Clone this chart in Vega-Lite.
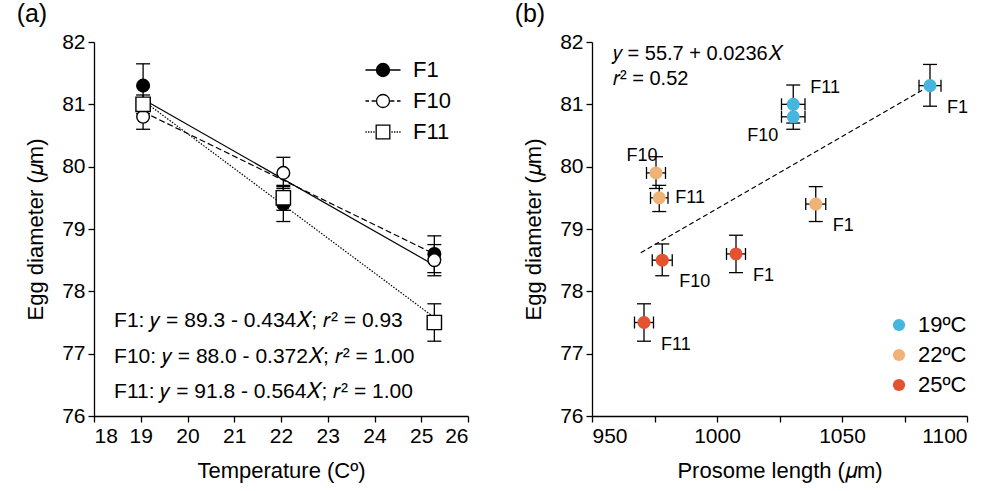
{
  "$schema": "https://vega.github.io/schema/vega-lite/v6.json",
  "padding": {"left": 16, "top": 2, "right": 4, "bottom": 4},
  "spacing": 45,
  "resolve": {
    "scale": {"color": "independent", "shape": "independent", "fill": "independent"},
    "legend": {"color": "independent", "shape": "independent", "fill": "independent"}
  },
  "config": {
    "font": "Liberation Sans",
    "view": {"stroke": null},
    "axis": {"domainColor": "#000", "tickColor": "#000", "labelColor": "#000", "titleColor": "#000", "labelFontSize": 21, "titleFontSize": 22, "titleFontWeight": "normal", "grid": false, "tickSize": 6, "domainWidth": 1.3, "tickWidth": 1.3, "labelPadding": 3},
    "title": {"fontSize": 25, "fontWeight": "normal", "anchor": "start", "frame": "bounds", "color": "#000", "offset": 4, "dx": -8},
    "legend": {"labelFontSize": 22, "labelColor": "#000", "padding": 0, "title": null}
  },
  "datasets": {
    "left_pts": [
      {"gen": "F1", "temp": 19.05, "mean": 81.3, "lo": 80.95, "hi": 81.65},
      {"gen": "F1", "temp": 22.05, "mean": 79.4, "lo": 79.12, "hi": 79.68},
      {"gen": "F1", "temp": 25.28, "mean": 78.6, "lo": 78.3, "hi": 78.89},
      {"gen": "F10", "temp": 19.05, "mean": 80.8, "lo": 80.6, "hi": 81.0},
      {"gen": "F10", "temp": 22.05, "mean": 79.9, "lo": 79.65, "hi": 80.15},
      {"gen": "F10", "temp": 25.28, "mean": 78.5, "lo": 78.25, "hi": 78.75},
      {"gen": "F11", "temp": 19.05, "mean": 81.0, "lo": 80.85, "hi": 81.15},
      {"gen": "F11", "temp": 22.05, "mean": 79.5, "lo": 79.3, "hi": 79.7},
      {"gen": "F11", "temp": 25.28, "mean": 77.5, "lo": 77.2, "hi": 77.8}
    ],
    "left_fit": [
      {"gen": "F1", "temp": 19.05, "fit": 81.08},
      {"gen": "F1", "temp": 25.28, "fit": 78.42},
      {"gen": "F10", "temp": 19.05, "fit": 80.88},
      {"gen": "F10", "temp": 25.28, "fit": 78.6},
      {"gen": "F11", "temp": 19.05, "fit": 81.06},
      {"gen": "F11", "temp": 25.28, "fit": 77.58}
    ],
    "left_notes": [
      {"txt": "F1: 𝑦 = 89.3 - 0.434𝑋; 𝑟² = 0.93", "temp": 18.43, "val": 77.53},
      {"txt": "F10: 𝑦 = 88.0 - 0.372𝑋; 𝑟² = 1.00", "temp": 18.43, "val": 76.94},
      {"txt": "F11: 𝑦 = 91.8 - 0.564𝑋; 𝑟² = 1.00", "temp": 18.43, "val": 76.38}
    ],
    "right_pts": [
      {"temp": "19ºC", "gen": "F1", "pl": 1085.2, "ed": 81.3, "pllo": 1080.8, "plhi": 1089.6, "edlo": 80.97, "edhi": 81.64, "pos": "br"},
      {"temp": "19ºC", "gen": "F11", "pl": 1030.5, "ed": 81.0, "pllo": 1025.8, "plhi": 1035.2, "edlo": 80.7, "edhi": 81.31, "pos": "ur"},
      {"temp": "19ºC", "gen": "F10", "pl": 1030.5, "ed": 80.8, "pllo": 1025.8, "plhi": 1035.2, "edlo": 80.6, "edhi": 81.0, "pos": "bl"},
      {"temp": "22ºC", "gen": "F10", "pl": 975.6, "ed": 79.9, "pllo": 971.8, "plhi": 979.4, "edlo": 79.65, "edhi": 80.16, "pos": "ul"},
      {"temp": "22ºC", "gen": "F11", "pl": 976.9, "ed": 79.5, "pllo": 973.4, "plhi": 980.4, "edlo": 79.28, "edhi": 79.7, "pos": "r"},
      {"temp": "22ºC", "gen": "F1", "pl": 1039.5, "ed": 79.4, "pllo": 1035.5, "plhi": 1043.5, "edlo": 79.12, "edhi": 79.68, "pos": "br"},
      {"temp": "25ºC", "gen": "F10", "pl": 978.1, "ed": 78.5, "pllo": 974.1, "plhi": 982.1, "edlo": 78.25, "edhi": 78.76, "pos": "br"},
      {"temp": "25ºC", "gen": "F1", "pl": 1007.6, "ed": 78.6, "pllo": 1003.8, "plhi": 1011.4, "edlo": 78.3, "edhi": 78.9, "pos": "br"},
      {"temp": "25ºC", "gen": "F11", "pl": 970.8, "ed": 77.5, "pllo": 967.0, "plhi": 974.6, "edlo": 77.2, "edhi": 77.8, "pos": "br"}
    ],
    "right_fit": [
      {"pl": 969.5, "ed": 78.62},
      {"pl": 1085.2, "ed": 81.3}
    ],
    "right_notes": [
      {"txt": "𝑦 = 55.7 + 0.0236𝑋", "pl": 958.4, "ed": 81.81},
      {"txt": "𝑟² = 0.52", "pl": 958.4, "ed": 81.41}
    ]
  },
  "hconcat": [
    {
      "width": 374,
      "height": 374,
      "title": {"text": "(a)"},
      "layer": [
        {
          "data": {"name": "left_fit"},
          "transform": [{"filter": "datum.gen === 'F1'"}],
          "mark": {"type": "line", "color": "black", "strokeWidth": 1.2},
          "encoding": {
            "x": {"field": "temp", "type": "quantitative", "scale": {"domain": [18, 26], "nice": false, "zero": false},
                  "axis": {"title": "Temperature (Cº)", "values": [18, 18.5, 19, 19.5, 20, 20.5, 21, 21.5, 22, 22.5, 23, 23.5, 24, 24.5, 25, 25.5, 26], "labelExpr": "datum.value % 1 === 0 ? format(datum.value, 'd') : ''", "titlePadding": 14}},
            "y": {"field": "fit", "type": "quantitative", "scale": {"domain": [76, 82], "nice": false, "zero": false},
                  "axis": {"title": "Egg diameter (𝜇m)", "values": [76, 76.5, 77, 77.5, 78, 78.5, 79, 79.5, 80, 80.5, 81, 81.5, 82], "labelExpr": "datum.value % 1 === 0 ? format(datum.value, 'd') : ''", "titlePadding": 14}}
          }
        },
        {
          "data": {"name": "left_fit"},
          "transform": [{"filter": "datum.gen === 'F10'"}],
          "mark": {"type": "line", "color": "black", "strokeWidth": 1.2, "strokeDash": [6, 3]},
          "encoding": {
            "x": {"field": "temp", "type": "quantitative"},
            "y": {"field": "fit", "type": "quantitative"}
          }
        },
        {
          "data": {"name": "left_fit"},
          "transform": [{"filter": "datum.gen === 'F11'"}],
          "mark": {"type": "line", "color": "black", "strokeWidth": 1.2, "strokeDash": [1.5, 1.5]},
          "encoding": {
            "x": {"field": "temp", "type": "quantitative"},
            "y": {"field": "fit", "type": "quantitative"}
          }
        },
        {
          "data": {"name": "left_pts"},
          "mark": {"type": "rule", "color": "black", "strokeWidth": 1.3},
          "encoding": {
            "x": {"field": "temp", "type": "quantitative"},
            "y": {"field": "lo", "type": "quantitative"},
            "y2": {"field": "hi"}
          }
        },
        {
          "data": {"name": "left_pts"},
          "mark": {"type": "tick", "orient": "horizontal", "color": "black", "size": 14, "thickness": 1.3, "opacity": 1},
          "encoding": {
            "x": {"field": "temp", "type": "quantitative"},
            "y": {"field": "lo", "type": "quantitative"}
          }
        },
        {
          "data": {"name": "left_pts"},
          "mark": {"type": "tick", "orient": "horizontal", "color": "black", "size": 14, "thickness": 1.3, "opacity": 1},
          "encoding": {
            "x": {"field": "temp", "type": "quantitative"},
            "y": {"field": "hi", "type": "quantitative"}
          }
        },
        {
          "data": {"name": "left_pts"},
          "mark": {"type": "point", "filled": true, "stroke": "black", "strokeWidth": 1.4, "opacity": 1},
          "encoding": {
            "x": {"field": "temp", "type": "quantitative"},
            "y": {"field": "mean", "type": "quantitative"},
            "shape": {"condition": {"test": "datum.gen === 'F11'", "value": "square"}, "value": "circle"},
            "fill": {"condition": {"test": "datum.gen === 'F1'", "value": "black"}, "value": "white"},
            "size": {"condition": {"test": "datum.gen === 'F11'", "value": 205}, "value": 160}
          }
        },
        {
          "data": {"name": "left_pts"},
          "transform": [{"filter": "false"}],
          "mark": {"type": "point", "filled": true, "stroke": "black", "strokeWidth": 1.3},
          "encoding": {
            "x": {"field": "temp", "type": "quantitative"},
            "y": {"field": "mean", "type": "quantitative"},
            "shape": {"field": "gen", "type": "nominal",
                      "scale": {"domain": ["F1", "F10", "F11"], "range": [
                        "M-2.7,0L-1,0M1,0L2.7,0M1,0A1,1,0,1,1,-1,0A1,1,0,1,1,1,0Z",
                        "M-2.7,0L-2.15,0M-1.75,0L-1.1,0M1.1,0L1.75,0M2.15,0L2.7,0M1,0A1,1,0,1,1,-1,0A1,1,0,1,1,1,0Z",
                        "M-2.7,0L-2.5,0M-2.3,0L-2.1,0M-1.9,0L-1.7,0M-1.5,0L-1.3,0M1.3,0L1.5,0M1.7,0L1.9,0M2.1,0L2.3,0M2.5,0L2.7,0M-1.05,-1.05L1.05,-1.05L1.05,1.05L-1.05,1.05Z"]},
                      "legend": {"orient": "top-right", "offset": 17, "rowPadding": 9, "labelOffset": 19, "symbolSize": 169, "symbolOpacity": 1, "symbolStrokeWidth": 1.3}},
            "fill": {"field": "gen", "type": "nominal",
                     "scale": {"domain": ["F1", "F10", "F11"], "range": ["black", "white", "white"]},
                     "legend": {"orient": "top-right", "offset": 17, "rowPadding": 9, "labelOffset": 19, "symbolSize": 169, "symbolOpacity": 1, "symbolStrokeWidth": 1.3}}
          }
        },
        {
          "data": {"name": "left_notes"},
          "mark": {"type": "text", "align": "left", "baseline": "middle", "fontSize": 21, "color": "black"},
          "encoding": {
            "x": {"field": "temp", "type": "quantitative"},
            "y": {"field": "val", "type": "quantitative"},
            "text": {"field": "txt"}
          }
        }
      ]
    },
    {
      "width": 375,
      "height": 374,
      "title": {"text": "(b)"},
      "data": {"name": "right_pts"},
      "layer": [
        {
          "data": {"name": "right_fit"},
          "mark": {"type": "line", "color": "black", "strokeWidth": 1.2, "strokeDash": [5, 3]},
          "encoding": {
            "x": {"field": "pl", "type": "quantitative", "scale": {"domain": [950, 1100], "nice": false, "zero": false},
                  "axis": {"title": "Prosome length (𝜇m)", "values": [950, 975, 1000, 1025, 1050, 1075, 1100], "format": "d", "titlePadding": 14}},
            "y": {"field": "ed", "type": "quantitative", "scale": {"domain": [76, 82], "nice": false, "zero": false},
                  "axis": {"title": "Egg diameter (𝜇m)", "values": [76, 76.5, 77, 77.5, 78, 78.5, 79, 79.5, 80, 80.5, 81, 81.5, 82], "labelExpr": "datum.value % 1 === 0 ? format(datum.value, 'd') : ''", "titlePadding": 14}}
          }
        },
        {
          "mark": {"type": "rule", "color": "black", "strokeWidth": 1.3},
          "encoding": {
            "x": {"field": "pl", "type": "quantitative"},
            "y": {"field": "edlo", "type": "quantitative"},
            "y2": {"field": "edhi"}
          }
        },
        {
          "mark": {"type": "tick", "orient": "horizontal", "color": "black", "size": 14, "thickness": 1.3, "opacity": 1},
          "encoding": {
            "x": {"field": "pl", "type": "quantitative"},
            "y": {"field": "edlo", "type": "quantitative"}
          }
        },
        {
          "mark": {"type": "tick", "orient": "horizontal", "color": "black", "size": 14, "thickness": 1.3, "opacity": 1},
          "encoding": {
            "x": {"field": "pl", "type": "quantitative"},
            "y": {"field": "edhi", "type": "quantitative"}
          }
        },
        {
          "mark": {"type": "rule", "color": "black", "strokeWidth": 1.3},
          "encoding": {
            "x": {"field": "pllo", "type": "quantitative"},
            "x2": {"field": "plhi"},
            "y": {"field": "ed", "type": "quantitative"}
          }
        },
        {
          "mark": {"type": "tick", "orient": "vertical", "color": "black", "size": 12, "thickness": 1.3, "opacity": 1},
          "encoding": {
            "x": {"field": "pllo", "type": "quantitative"},
            "y": {"field": "ed", "type": "quantitative"}
          }
        },
        {
          "mark": {"type": "tick", "orient": "vertical", "color": "black", "size": 12, "thickness": 1.3, "opacity": 1},
          "encoding": {
            "x": {"field": "plhi", "type": "quantitative"},
            "y": {"field": "ed", "type": "quantitative"}
          }
        },
        {
          "mark": {"type": "circle", "size": 170, "opacity": 1},
          "encoding": {
            "x": {"field": "pl", "type": "quantitative"},
            "y": {"field": "ed", "type": "quantitative"},
            "color": {"field": "temp", "type": "nominal", "scale": {"domain": ["19ºC", "22ºC", "25ºC"], "range": ["#46b6de", "#efb377", "#e4522f"]},
                      "legend": {"orient": "none", "legendX": 296, "legendY": 272, "rowPadding": 8, "labelOffset": 8, "symbolSize": 150, "symbolType": "circle", "symbolOpacity": 1}}
          }
        },
        {
          "transform": [{"filter": "datum.pos === 'br'"}],
          "mark": {"type": "text", "align": "left", "baseline": "middle", "fontSize": 18, "color": "black", "dx": 17, "dy": 22},
          "encoding": {
            "x": {"field": "pl", "type": "quantitative"},
            "y": {"field": "ed", "type": "quantitative"},
            "text": {"field": "gen"}
          }
        },
        {
          "transform": [{"filter": "datum.pos === 'ur'"}],
          "mark": {"type": "text", "align": "left", "baseline": "middle", "fontSize": 18, "color": "black", "dx": 17, "dy": -16},
          "encoding": {
            "x": {"field": "pl", "type": "quantitative"},
            "y": {"field": "ed", "type": "quantitative"},
            "text": {"field": "gen"}
          }
        },
        {
          "transform": [{"filter": "datum.pos === 'r'"}],
          "mark": {"type": "text", "align": "left", "baseline": "middle", "fontSize": 18, "color": "black", "dx": 16, "dy": 0},
          "encoding": {
            "x": {"field": "pl", "type": "quantitative"},
            "y": {"field": "ed", "type": "quantitative"},
            "text": {"field": "gen"}
          }
        },
        {
          "transform": [{"filter": "datum.pos === 'bl'"}],
          "mark": {"type": "text", "align": "right", "baseline": "middle", "fontSize": 18, "color": "black", "dx": -15, "dy": 19},
          "encoding": {
            "x": {"field": "pl", "type": "quantitative"},
            "y": {"field": "ed", "type": "quantitative"},
            "text": {"field": "gen"}
          }
        },
        {
          "transform": [{"filter": "datum.pos === 'ul'"}],
          "mark": {"type": "text", "align": "center", "baseline": "middle", "fontSize": 18, "color": "black", "dx": -14, "dy": -17},
          "encoding": {
            "x": {"field": "pl", "type": "quantitative"},
            "y": {"field": "ed", "type": "quantitative"},
            "text": {"field": "gen"}
          }
        },
        {
          "data": {"name": "right_notes"},
          "mark": {"type": "text", "align": "left", "baseline": "middle", "fontSize": 20, "color": "black"},
          "encoding": {
            "x": {"field": "pl", "type": "quantitative"},
            "y": {"field": "ed", "type": "quantitative"},
            "text": {"field": "txt"}
          }
        }
      ]
    }
  ]
}
